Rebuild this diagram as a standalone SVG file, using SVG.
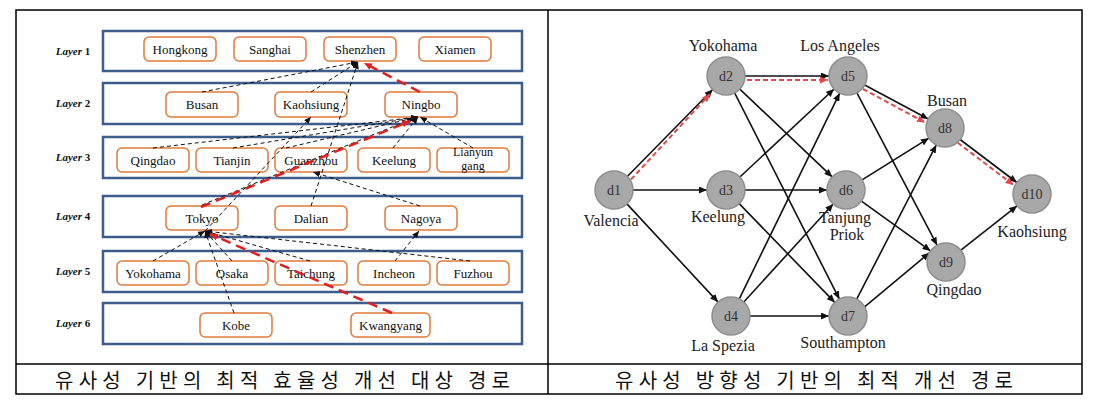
<svg xmlns="http://www.w3.org/2000/svg" width="1106" height="402" viewBox="0 0 1106 402">
<defs>
<style>
.frame{fill:none;stroke:#000;stroke-width:1.5}
.layer{fill:#fff;stroke:#3E5C8C;stroke-width:2.5}
.nb{fill:#fff;stroke:#E07A3A;stroke-width:1.5}
.nt{font-family:"Liberation Serif",serif;font-size:13px;fill:#111;text-anchor:middle}
.ll{font-family:"Liberation Serif",serif;font-size:11px;font-weight:bold;fill:#111;text-anchor:middle}
.bd{fill:none;stroke:#111;stroke-width:1;stroke-dasharray:4 3}
.rd{fill:none;stroke:#E41E1E;stroke-width:2.5;stroke-dasharray:10 6}
.ed{fill:none;stroke:#111;stroke-width:1.6}
.rr{fill:none;stroke:#E24A4A;stroke-width:2;stroke-dasharray:5 3}
.circ{fill:#A8A8A8;stroke:#8E8E8E;stroke-width:1.5}
.dt{font-family:"Liberation Serif",serif;font-size:14px;fill:#333;text-anchor:middle}
.pl{font-family:"Liberation Serif",serif;font-size:16px;fill:#222;text-anchor:middle}
.cap{font-family:"Noto Sans CJK KR",sans-serif;font-size:20px;fill:#111}
</style>
<marker id="ab" markerUnits="userSpaceOnUse" markerWidth="7" markerHeight="6" refX="7" refY="3" orient="auto"><path d="M0,0 L7,3 L0,6 z" fill="#111"/></marker>
<marker id="ar" markerUnits="userSpaceOnUse" markerWidth="8" markerHeight="7" refX="8" refY="3.5" orient="auto"><path d="M0,0 L8,3.5 L0,7 z" fill="#E41E1E"/></marker>
<marker id="ae" markerUnits="userSpaceOnUse" markerWidth="8" markerHeight="7" refX="8" refY="3.5" orient="auto"><path d="M0,0 L8,3.5 L0,7 z" fill="#111"/></marker>
<marker id="ap" markerUnits="userSpaceOnUse" markerWidth="8" markerHeight="7" refX="8" refY="3.5" orient="auto"><path d="M0,0 L8,3.5 L0,7 z" fill="#E24A4A"/></marker>
</defs>
<rect width="1106" height="402" fill="#fff"/>
<g id="frame">
<rect class="frame" x="16" y="10" width="1066" height="384"/>
<line class="frame" x1="548" y1="10" x2="548" y2="394"/>
<line class="frame" x1="16" y1="364" x2="1082" y2="364"/>
</g>
<g id="layers">
<rect class="layer" x="103" y="31" width="419" height="40"/>
<rect class="layer" x="103" y="83" width="419" height="41"/>
<rect class="layer" x="103" y="137" width="419" height="41"/>
<rect class="layer" x="103" y="196" width="419" height="41"/>
<rect class="layer" x="103" y="251" width="419" height="41"/>
<rect class="layer" x="103" y="303" width="419" height="41"/>
<text class="ll" x="73" y="55"><tspan font-style="italic">Layer</tspan> 1</text>
<text class="ll" x="73" y="107"><tspan font-style="italic">Layer</tspan> 2</text>
<text class="ll" x="73" y="161"><tspan font-style="italic">Layer</tspan> 3</text>
<text class="ll" x="73" y="220"><tspan font-style="italic">Layer</tspan> 4</text>
<text class="ll" x="73" y="275"><tspan font-style="italic">Layer</tspan> 5</text>
<text class="ll" x="73" y="327"><tspan font-style="italic">Layer</tspan> 6</text>
</g>
<g id="n-hongkong"><rect class="nb" x="144" y="37" width="72" height="24" rx="5"/><text class="nt" x="180" y="53.5">Hongkong</text></g>
<g id="n-sanghai"><rect class="nb" x="234" y="37" width="72" height="24" rx="5"/><text class="nt" x="270" y="53.5">Sanghai</text></g>
<g id="n-shenzhen"><rect class="nb" x="324" y="37" width="72" height="24" rx="5"/><text class="nt" x="360" y="53.5">Shenzhen</text></g>
<g id="n-xiamen"><rect class="nb" x="419" y="37" width="72" height="24" rx="5"/><text class="nt" x="455" y="53.5">Xiamen</text></g>
<g id="n-busan"><rect class="nb" x="166" y="92" width="72" height="25" rx="5"/><text class="nt" x="202" y="109">Busan</text></g>
<g id="n-kaohsiung"><rect class="nb" x="275" y="92" width="72" height="25" rx="5"/><text class="nt" x="311" y="109">Kaohsiung</text></g>
<g id="n-ningbo"><rect class="nb" x="385" y="92" width="72" height="25" rx="5"/><text class="nt" x="421" y="109">Ningbo</text></g>
<g id="n-qingdao"><rect class="nb" x="117" y="148" width="72" height="24" rx="5"/><text class="nt" x="153" y="164.5">Qingdao</text></g>
<g id="n-tianjin"><rect class="nb" x="196" y="148" width="72" height="24" rx="5"/><text class="nt" x="232" y="164.5">Tianjin</text></g>
<g id="n-guanzhou"><rect class="nb" x="275" y="148" width="72" height="24" rx="5"/><text class="nt" x="311" y="164.5">Guanzhou</text></g>
<g id="n-keelung"><rect class="nb" x="358" y="148" width="72" height="24" rx="5"/><text class="nt" x="394" y="164.5">Keelung</text></g>
<g id="n-lianyungang"><rect class="nb" x="437" y="148" width="72" height="24" rx="5"/><text class="nt" x="473" y="156" style="font-size:12px">Lianyun</text><text class="nt" x="473" y="169.5" style="font-size:12px">gang</text></g>
<g id="n-tokyo"><rect class="nb" x="166" y="206" width="72" height="24" rx="5"/><text class="nt" x="202" y="222.5">Tokyo</text></g>
<g id="n-dalian"><rect class="nb" x="275" y="206" width="72" height="24" rx="5"/><text class="nt" x="311" y="222.5">Dalian</text></g>
<g id="n-nagoya"><rect class="nb" x="385" y="206" width="72" height="24" rx="5"/><text class="nt" x="421" y="222.5">Nagoya</text></g>
<g id="n-yokohama"><rect class="nb" x="117" y="261" width="72" height="24" rx="5"/><text class="nt" x="153" y="277.5">Yokohama</text></g>
<g id="n-osaka"><rect class="nb" x="196" y="261" width="72" height="24" rx="5"/><text class="nt" x="232" y="277.5">Osaka</text></g>
<g id="n-taichung"><rect class="nb" x="275" y="261" width="72" height="24" rx="5"/><text class="nt" x="311" y="277.5">Taichung</text></g>
<g id="n-incheon"><rect class="nb" x="358" y="261" width="72" height="24" rx="5"/><text class="nt" x="394" y="277.5">Incheon</text></g>
<g id="n-fuzhou"><rect class="nb" x="437" y="261" width="72" height="24" rx="5"/><text class="nt" x="473" y="277.5">Fuzhou</text></g>
<g id="n-kobe"><rect class="nb" x="200" y="313" width="72" height="24" rx="5"/><text class="nt" x="236" y="329.5">Kobe</text></g>
<g id="n-kwangyang"><rect class="nb" x="351" y="313" width="79" height="24" rx="5"/><text class="nt" x="390.5" y="329.5">Kwangyang</text></g>
<g id="left-connectors">
<line class="bd" x1="202" y1="92" x2="358" y2="62" marker-end="url(#ab)"/>
<line class="bd" x1="311" y1="92" x2="358" y2="62" marker-end="url(#ab)"/>
<line class="bd" x1="311" y1="206" x2="358" y2="62" marker-end="url(#ab)"/>
<line class="bd" x1="153" y1="148" x2="418" y2="117" marker-end="url(#ab)"/>
<line class="bd" x1="233" y1="148" x2="418" y2="117" marker-end="url(#ab)"/>
<line class="bd" x1="286" y1="148" x2="418" y2="117" marker-end="url(#ab)"/>
<line class="bd" x1="393" y1="148" x2="418" y2="117" marker-end="url(#ab)"/>
<line class="bd" x1="473" y1="148" x2="420" y2="117" marker-end="url(#ab)"/>
<line class="bd" x1="202" y1="205" x2="414" y2="118" marker-end="url(#ab)"/>
<line class="bd" x1="205" y1="231" x2="311" y2="117" marker-end="url(#ab)"/>
<line class="bd" x1="420" y1="206" x2="313" y2="172" marker-end="url(#ab)"/>
<line class="bd" x1="153" y1="261" x2="205" y2="231" marker-end="url(#ab)"/>
<line class="bd" x1="232" y1="261" x2="205" y2="231" marker-end="url(#ab)"/>
<line class="bd" x1="234" y1="313" x2="205" y2="231" marker-end="url(#ab)"/>
<line class="bd" x1="310" y1="261" x2="205" y2="231" marker-end="url(#ab)"/>
<line class="bd" x1="470" y1="261" x2="205" y2="231" marker-end="url(#ab)"/>
<line class="bd" x1="395" y1="261" x2="419" y2="231" marker-end="url(#ab)"/>
<line class="rd" x1="420" y1="92" x2="364" y2="63" marker-end="url(#ar)"/>
<line class="rd" x1="201" y1="207" x2="410" y2="121" marker-end="url(#ar)"/>
<line class="rd" x1="392" y1="313" x2="210" y2="234" marker-end="url(#ar)"/>
</g>
<g id="right-connectors">
<line class="ed" x1="627.3" y1="176.5" x2="712.7" y2="89.5" marker-end="url(#ae)"/>
<line class="ed" x1="633" y1="190" x2="707" y2="190" marker-end="url(#ae)"/>
<line class="ed" x1="626.9" y1="203.9" x2="718.1" y2="302.1" marker-end="url(#ae)"/>
<line class="ed" x1="745" y1="76" x2="829" y2="76" marker-end="url(#ae)"/>
<line class="ed" x1="739.8" y1="89.1" x2="832.2" y2="176.9" marker-end="url(#ae)"/>
<line class="ed" x1="734.6" y1="92.9" x2="839.4" y2="299.1" marker-end="url(#ae)"/>
<line class="ed" x1="739.9" y1="177" x2="834.1" y2="89" marker-end="url(#ae)"/>
<line class="ed" x1="745" y1="190" x2="827" y2="190" marker-end="url(#ae)"/>
<line class="ed" x1="739.2" y1="203.6" x2="834.8" y2="302.4" marker-end="url(#ae)"/>
<line class="ed" x1="739.3" y1="298.9" x2="839.7" y2="93.1" marker-end="url(#ae)"/>
<line class="ed" x1="743.8" y1="302" x2="833.2" y2="204" marker-end="url(#ae)"/>
<line class="ed" x1="750" y1="316" x2="829" y2="316" marker-end="url(#ae)"/>
<line class="ed" x1="864.7" y1="85" x2="928.3" y2="119" marker-end="url(#ae)"/>
<line class="ed" x1="856.9" y1="92.8" x2="937.1" y2="245.2" marker-end="url(#ae)"/>
<line class="ed" x1="862.1" y1="179.9" x2="928.9" y2="138.1" marker-end="url(#ae)"/>
<line class="ed" x1="861.4" y1="201.1" x2="930.6" y2="250.9" marker-end="url(#ae)"/>
<line class="ed" x1="856.7" y1="299.1" x2="936.3" y2="144.9" marker-end="url(#ae)"/>
<line class="ed" x1="864.6" y1="306.8" x2="929.4" y2="252.8" marker-end="url(#ae)"/>
<line class="ed" x1="960.1" y1="139.5" x2="1016.9" y2="182.5" marker-end="url(#ae)"/>
<line class="ed" x1="960.9" y1="250.2" x2="1017.1" y2="205.8" marker-end="url(#ae)"/>
<line class="rr" x1="631" y1="179.5" x2="710" y2="94" marker-end="url(#ap)"/>
<line class="rr" x1="747" y1="80" x2="828" y2="80" marker-end="url(#ap)"/>
<line class="rr" x1="863" y1="89" x2="925" y2="122.5" marker-end="url(#ap)"/>
<line class="rr" x1="957.7" y1="142.7" x2="1013.5" y2="185" marker-end="url(#ap)"/>
</g>
<g id="d1"><circle class="circ" cx="614" cy="190" r="19"/><text class="dt" x="614" y="195">d1</text></g>
<g id="d2"><circle class="circ" cx="726" cy="76" r="19"/><text class="dt" x="726" y="81">d2</text></g>
<g id="d3"><circle class="circ" cx="726" cy="190" r="19"/><text class="dt" x="726" y="195">d3</text></g>
<g id="d4"><circle class="circ" cx="731" cy="316" r="19"/><text class="dt" x="731" y="321">d4</text></g>
<g id="d5"><circle class="circ" cx="848" cy="76" r="19"/><text class="dt" x="848" y="81">d5</text></g>
<g id="d6"><circle class="circ" cx="846" cy="190" r="19"/><text class="dt" x="846" y="195">d6</text></g>
<g id="d7"><circle class="circ" cx="848" cy="316" r="19"/><text class="dt" x="848" y="321">d7</text></g>
<g id="d8"><circle class="circ" cx="945" cy="128" r="19"/><text class="dt" x="945" y="133">d8</text></g>
<g id="d9"><circle class="circ" cx="946" cy="262" r="19"/><text class="dt" x="946" y="267">d9</text></g>
<g id="d10"><circle class="circ" cx="1032" cy="194" r="19"/><text class="dt" x="1032" y="199">d10</text></g>
<g id="place-labels">
<text class="pl" x="723" y="51">Yokohama</text>
<text class="pl" x="840" y="51">Los Angeles</text>
<text class="pl" x="947" y="106">Busan</text>
<text class="pl" x="611" y="226">Valencia</text>
<text class="pl" x="718" y="222">Keelung</text>
<text class="pl" x="845" y="223">Tanjung</text>
<text class="pl" x="847" y="240">Priok</text>
<text class="pl" x="723" y="351">La Spezia</text>
<text class="pl" x="843" y="348">Southampton</text>
<text class="pl" x="954" y="295">Qingdao</text>
<text class="pl" x="1032" y="237">Kaohsiung</text>
</g>
<g id="captions">
<text class="cap" x="55" y="388" textLength="455" lengthAdjust="spacing">유사성 기반의 최적 효율성 개선 대상 경로</text>
<text class="cap" x="615" y="388" textLength="398" lengthAdjust="spacing">유사성 방향성 기반의 최적 개선 경로</text>
</g>
</svg>
